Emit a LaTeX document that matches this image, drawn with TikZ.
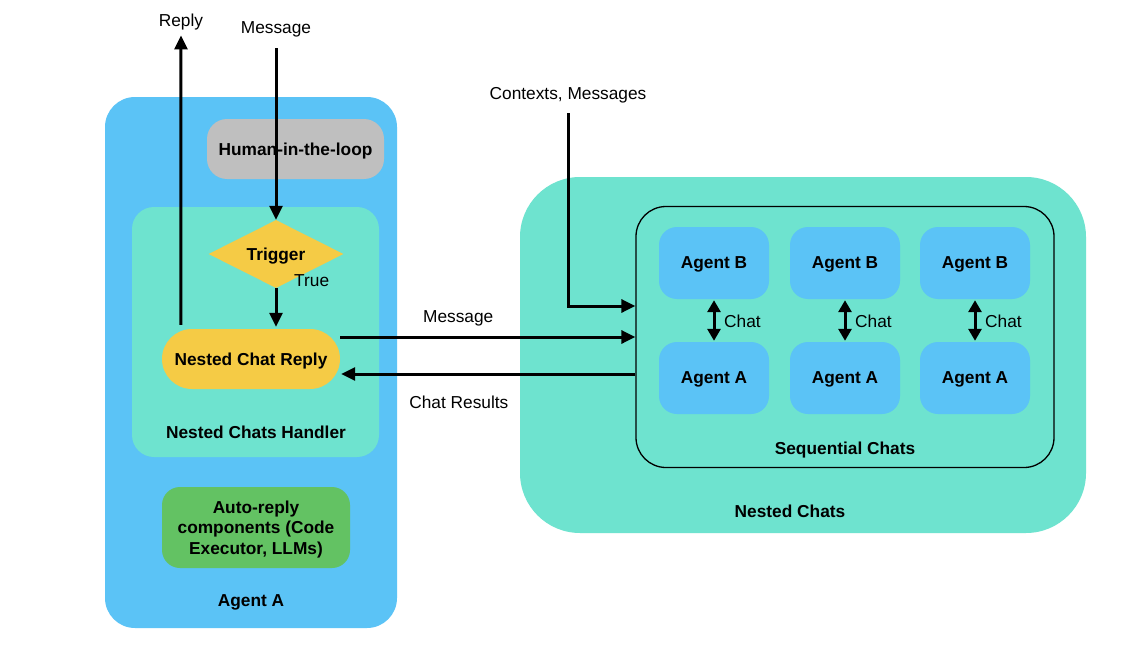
\documentclass[tikz,border=0pt]{standalone}
\usepackage{fontspec}
\setmainfont{Liberation Sans}
\usetikzlibrary{shapes.geometric,arrows.meta,calc}
\definecolor{skyblue}{RGB}{91,195,246}
\definecolor{tealbg}{RGB}{110,227,207}
\definecolor{sunny}{RGB}{245,203,69}
\definecolor{leaf}{RGB}{99,194,99}
\definecolor{greybox}{RGB}{191,191,191}
\tikzset{
  txt/.style={font=\fontsize{17.3}{20.5}\selectfont, inner sep=0pt, align=center, text depth=0pt},
  btxt/.style={txt, font=\fontsize{17.3}{20.5}\selectfont\bfseries},
  panel/.style={rounded corners=#1, inner sep=0pt},
  flow/.style={line width=3pt, -{Triangle[length=14pt,width=13pt]}},
  chatflow/.style={line width=3pt, {Triangle[length=12pt,width=13pt]}-{Triangle[length=12pt,width=13pt]}},
}
\begin{document}
\begin{tikzpicture}[x=1pt,y=-1pt]
\useasboundingbox[fill=white] (0,0) rectangle (1146,661);

% ---- Agent A column ----
\node[panel=30, fill=skyblue, minimum width=292pt, minimum height=531pt] (agentA) at (251,362.5) {};
\node[panel=20, fill=greybox, minimum width=177pt, minimum height=60pt, btxt] (hitl) at (295.5,149) {Human-in-the-loop};
\node[panel=22, fill=tealbg, minimum width=247pt, minimum height=250pt] (handler) at (255.5,332) {};
\node[diamond, fill=sunny, minimum width=135pt, minimum height=68pt, inner sep=0pt, aspect=2, btxt] (trigger) at (276,254) {Trigger};
\node[txt, anchor=west] (truelbl) at (294,281) {True};
\node[panel=30, fill=sunny, minimum width=178pt, minimum height=60pt, btxt] (ncr) at (251,359) {Nested Chat Reply};
\node[btxt] (handlerlbl) at (256,432) {Nested Chats Handler};
\node[panel=18, fill=leaf, minimum width=188pt, minimum height=81pt, btxt] (auto) at (256,527.5) {Auto-reply\\components (Code\\Executor, LLMs)};
\node[btxt] (agentAlbl) at (251,601) {Agent A};

\node[txt] (replylbl) at (181,20) {Reply};
\node[txt] (msglbl) at (276,28) {Message};

% ---- Nested chats ----
\node[panel=60, fill=tealbg, minimum width=566pt, minimum height=356pt] (nested) at (803,355) {};
\node[panel=30, draw=black, line width=1.3pt, minimum width=418pt, minimum height=261pt] (seq) at (845,337) {};
\node[btxt] (seqlbl) at (845,448) {Sequential Chats};
\node[btxt] (nestedlbl) at (790,511) {Nested Chats};
\node[txt] (ctxlbl) at (568,93) {Contexts, Messages};

\foreach \i/\x in {1/714,2/845,3/975}{
  \node[panel=18, fill=skyblue, minimum width=110pt, minimum height=72pt, btxt] (b\i) at (\x,263) {Agent B};
  \node[panel=18, fill=skyblue, minimum width=110pt, minimum height=72pt, btxt] (a\i) at (\x,378) {Agent A};
  \draw[chatflow] ($(b\i.south)+(0,1)$) -- ($(a\i.north)+(0,-1)$);
  \node[txt, anchor=west] (chat\i) at ($(b\i.south)+(10,22)$) {Chat};
}

% ---- Connectors ----
\draw[flow] ($(msglbl.south)+(0,14)$) -- (trigger.north);
\draw[flow] (trigger.south) -- ($(ncr.north)+(25,-2)$);
\draw[flow] ($(ncr.north west)+(19,-4)$) -- ($(replylbl.south)+(0,9)$);

\coordinate (ctxin) at ($(seq.west)+(0,-31)$);
\draw[flow] ($(ctxlbl.south)+(0,14)$) |- (ctxin);

\draw[flow] (ncr.east |- seq.west) -- node[txt, pos=0.4, above=13pt] (sendlbl) {Message} (seq.west);
\draw[flow] ($(seq.west)+(0,37)$) -- node[txt, pos=0.6, below=20pt] (reslbl) {Chat Results} ($(ncr.east)+(1,15)$);
\end{tikzpicture}
\end{document}
